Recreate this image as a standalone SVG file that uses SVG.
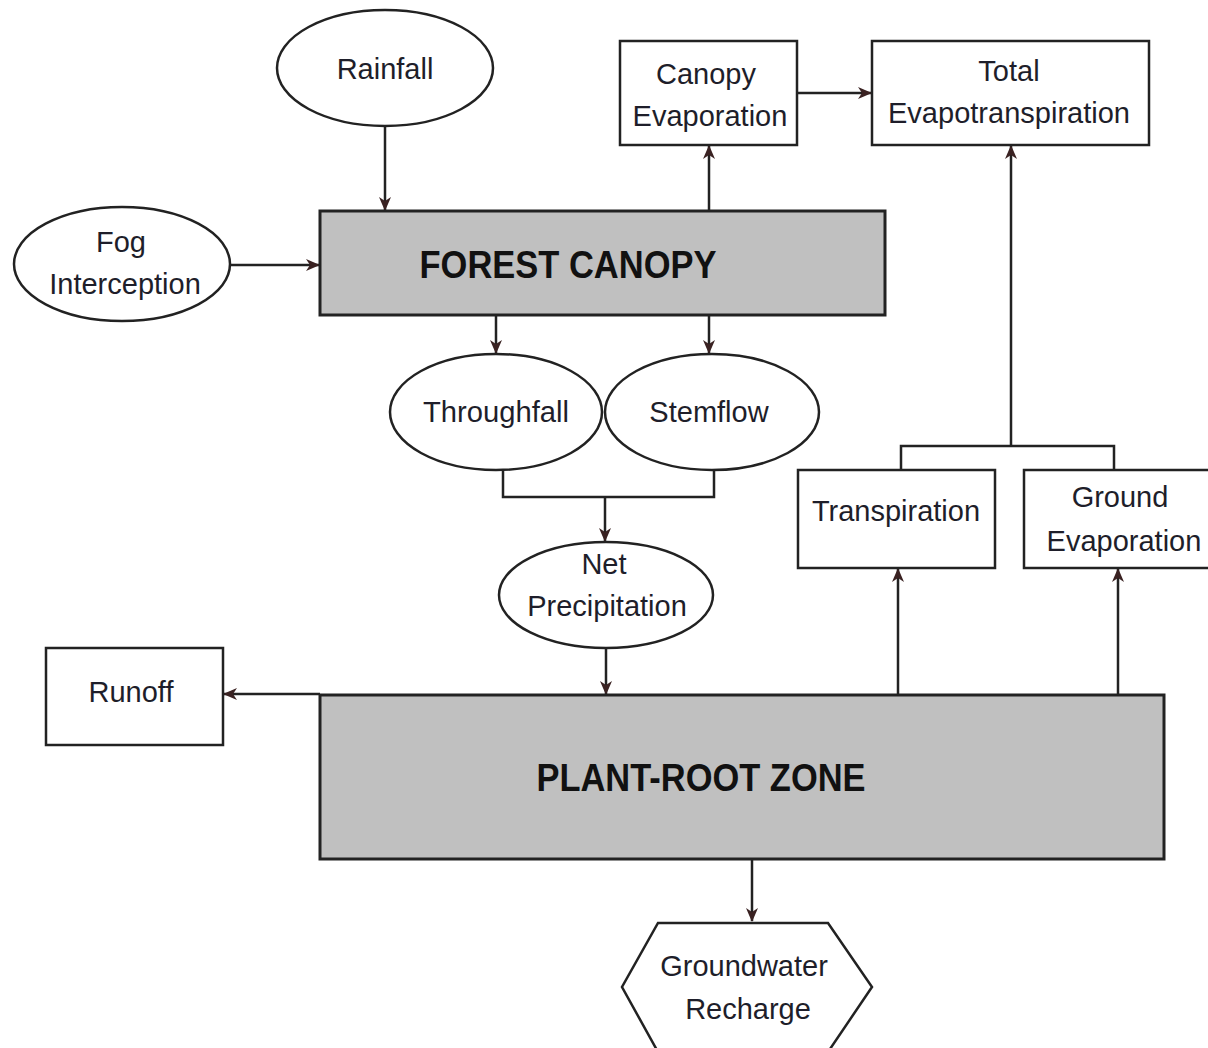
<svg xmlns="http://www.w3.org/2000/svg" width="1208" height="1048" viewBox="0 0 1208 1048">
<defs>
<style>
.s{fill:#fff;stroke:#222;stroke-width:2.5}
.g{fill:#c0c0c0;stroke:#222;stroke-width:3}
.t{font-family:"Liberation Sans",Arial,sans-serif;font-size:29px;fill:#1e1e2a;text-anchor:middle}
.b{font-family:"Liberation Sans",Arial,sans-serif;font-size:38px;font-weight:bold;fill:#111;text-anchor:middle}
.c{fill:none;stroke:#222;stroke-width:2.5}
</style>
<marker id="a" viewBox="0 0 14 12" refX="13" refY="6" markerWidth="14" markerHeight="12" markerUnits="userSpaceOnUse" orient="auto">
<path d="M0,0 L14,6 L0,12 L4,6 Z" fill="#3a2222"/>
</marker>
</defs>
<rect width="1208" height="1048" fill="#fff"/>
<g id="connectors">
<line class="c" x1="385" y1="126" x2="385" y2="210" marker-end="url(#a)"/>
<line class="c" x1="230" y1="265" x2="319" y2="265" marker-end="url(#a)"/>
<line class="c" x1="709" y1="211" x2="709" y2="146" marker-end="url(#a)"/>
<line class="c" x1="797" y1="93" x2="871" y2="93" marker-end="url(#a)"/>
<line class="c" x1="496" y1="315" x2="496" y2="353" marker-end="url(#a)"/>
<line class="c" x1="709" y1="315" x2="709" y2="353" marker-end="url(#a)"/>
<polyline class="c" points="503,470 503,497 714,497 714,470"/>
<line class="c" x1="605" y1="497" x2="605" y2="541" marker-end="url(#a)"/>
<line class="c" x1="606" y1="648" x2="606" y2="694" marker-end="url(#a)"/>
<line class="c" x1="320" y1="694" x2="224" y2="694" marker-end="url(#a)"/>
<line class="c" x1="898" y1="695" x2="898" y2="569" marker-end="url(#a)"/>
<line class="c" x1="1118" y1="695" x2="1118" y2="569" marker-end="url(#a)"/>
<polyline class="c" points="901,470 901,446 1114,446 1114,470"/>
<line class="c" x1="1011" y1="446" x2="1011" y2="146" marker-end="url(#a)"/>
<line class="c" x1="752" y1="859" x2="752" y2="921" marker-end="url(#a)"/>
</g>
<g id="rainfall"><ellipse class="s" cx="385" cy="68" rx="108" ry="58"/><text class="t" x="385" y="79">Rainfall</text></g>
<g id="fog"><ellipse class="s" cx="122" cy="264" rx="108" ry="57"/><text class="t" x="121" y="252">Fog</text><text class="t" x="125" y="294">Interception</text></g>
<g id="forest-canopy"><rect class="g" x="320" y="211" width="565" height="104"/><text class="b" x="568" y="278" textLength="297" lengthAdjust="spacingAndGlyphs">FOREST CANOPY</text></g>
<g id="canopy-evaporation"><rect class="s" x="620" y="41" width="177" height="104"/><text class="t" x="706" y="84">Canopy</text><text class="t" x="710" y="126">Evaporation</text></g>
<g id="total-et"><rect class="s" x="872" y="41" width="277" height="104"/><text class="t" x="1009" y="81">Total</text><text class="t" x="1009" y="123" textLength="242" lengthAdjust="spacingAndGlyphs">Evapotranspiration</text></g>
<g id="throughfall"><ellipse class="s" cx="496" cy="412" rx="106" ry="58"/><text class="t" x="496" y="422" textLength="146" lengthAdjust="spacingAndGlyphs">Throughfall</text></g>
<g id="stemflow"><ellipse class="s" cx="712" cy="412" rx="107" ry="58"/><text class="t" x="709" y="422">Stemflow</text></g>
<g id="net-precipitation"><ellipse class="s" cx="606" cy="595" rx="107" ry="53"/><text class="t" x="604" y="574">Net</text><text class="t" x="607" y="616">Precipitation</text></g>
<g id="runoff"><rect class="s" x="46" y="648" width="177" height="97"/><text class="t" x="131" y="702">Runoff</text></g>
<g id="plant-root-zone"><rect class="g" x="320" y="695" width="844" height="164"/><text class="b" x="701" y="791" textLength="329" lengthAdjust="spacingAndGlyphs">PLANT-ROOT ZONE</text></g>
<g id="transpiration"><rect class="s" x="798" y="470" width="197" height="98"/><text class="t" x="896" y="521">Transpiration</text></g>
<g id="ground-evaporation"><rect class="s" x="1024" y="470" width="186" height="98"/><text class="t" x="1120" y="507">Ground</text><text class="t" x="1124" y="551">Evaporation</text></g>
<g id="groundwater-recharge"><polygon class="s" points="658,923 828,923 872,987 828,1052 658,1052 622,987"/><text class="t" x="744" y="976">Groundwater</text><text class="t" x="748" y="1019">Recharge</text></g>
</svg>
